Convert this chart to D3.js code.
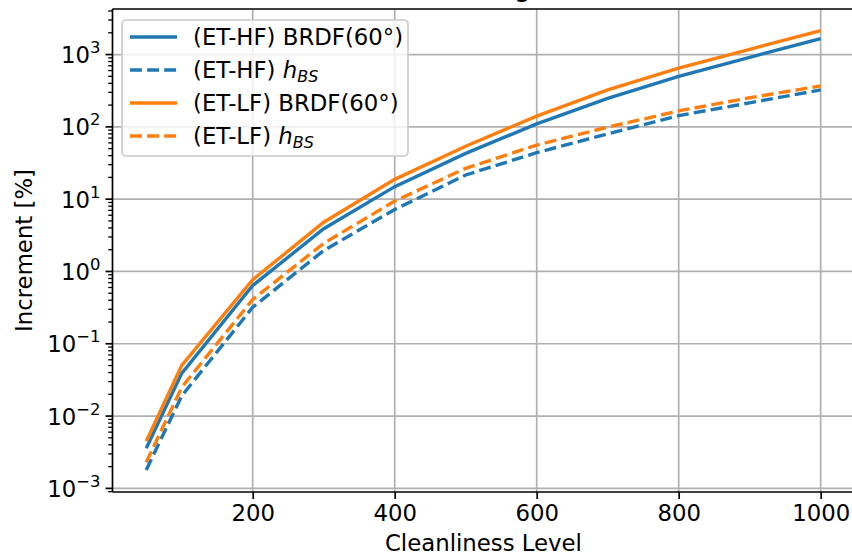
<!DOCTYPE html>
<html>
<head>
<meta charset="utf-8">
<script src="https://cdn.jsdelivr.net/npm/d3@7"></script>
<style>
  body { margin: 0; background: #fff; }
  svg { display: block; font-family: "DejaVu Sans", sans-serif; }
</style>
</head>
<body>
<svg id="chart" width="852" height="556"></svg>
<script>
// cleanliness levels
var levels = [50, 100, 200, 300, 400, 500, 600, 700, 800, 900, 1000];

// increment [%]
var hfBrdf = [0.0036, 0.039, 0.64, 3.9, 14.9, 43, 110, 248, 500, 915, 1660];
var hfHbs  = [0.0018, 0.019, 0.32, 1.95, 7.2, 21.6, 44, 80, 143, 215, 324];
var lfBrdf = [0.0045, 0.05, 0.77, 4.8, 18.8, 54, 141, 324, 650, 1180, 2140];
var lfHbs  = [0.0023, 0.025, 0.41, 2.45, 9.4, 26.7, 56, 99, 166, 253, 368];

var xTicks = [200, 400, 600, 800, 1000];
var yExps = [-3, -2, -1, 0, 1, 2, 3];

var series = [
    { name: '(ET-HF) BRDF(60°)', values: hfBrdf, color: '#1f77b4', dash: null },
    { name: '(ET-HF) ', sub: true, values: hfHbs, color: '#1f77b4', dash: '11.9,5.2' },
    { name: '(ET-LF) BRDF(60°)', values: lfBrdf, color: '#ff7f0e', dash: null },
    { name: '(ET-LF) ', sub: true, values: lfHbs, color: '#ff7f0e', dash: '11.9,5.2' }
];

var svg = d3.select('#chart');
var plotL = 112.5, plotR = 854.4, plotT = 9, plotB = 492;
var fs = 22.8;

var x = d3.scaleLinear().domain([2.5, 1047.5]).range([plotL, plotR]);
var y = d3.scaleLog().domain([Math.pow(10, -3.05), Math.pow(10, 3.63)]).range([plotB, plotT]);

// title, almost entirely above the visible area
svg.append('text')
    .attr('x', (plotL + plotR) / 2 - 12)
    .attr('y', -4)
    .attr('text-anchor', 'middle')
    .attr('font-size', fs * 1.2)
    .text('Cleaning');

// grid
var grid = svg.append('g').attr('stroke', '#b0b0b0').attr('stroke-width', 1.7);
grid.selectAll('line.gx').data(xTicks).enter().append('line')
    .attr('x1', d => x(d)).attr('x2', d => x(d))
    .attr('y1', plotT).attr('y2', plotB);
grid.selectAll('line.gy').data(yExps).enter().append('line')
    .attr('x1', plotL).attr('x2', plotR)
    .attr('y1', d => y(Math.pow(10, d))).attr('y2', d => y(Math.pow(10, d)));

// lines
var line = d3.line()
    .x((d, i) => x(levels[i]))
    .y(d => y(d));

svg.append('g').selectAll('path').data(series).enter().append('path')
    .attr('d', d => line(d.values))
    .attr('fill', 'none')
    .attr('stroke', d => d.color)
    .attr('stroke-width', 3.4)
    .attr('stroke-dasharray', d => d.dash);

// x axis
var xAxis = d3.axisBottom(x).tickValues(xTicks).tickFormat(d3.format('d'))
    .tickSize(7).tickPadding(6);
var gx = svg.append('g').attr('transform', 'translate(0,' + plotB + ')').call(xAxis);
gx.select('.domain').remove();
gx.selectAll('line').attr('stroke', '#000').attr('stroke-width', 1.7);
gx.selectAll('text').attr('font-size', fs).attr('fill', '#000')
    .attr('font-family', '"DejaVu Sans", sans-serif');

// y axis, minor ticks
var minor = [];
for (var e = -4; e <= 3; e++) {
    for (var m = 2; m <= 9; m++) {
        var v = m * Math.pow(10, e);
        if (v >= y.domain()[0] && v <= y.domain()[1]) minor.push(v);
    }
}
svg.append('g').selectAll('line').data(minor).enter().append('line')
    .attr('x1', plotL - 4.3).attr('x2', plotL)
    .attr('y1', d => y(d)).attr('y2', d => y(d))
    .attr('stroke', '#000').attr('stroke-width', 1.3);

var gy = svg.append('g');
gy.selectAll('line').data(yExps).enter().append('line')
    .attr('x1', plotL - 7).attr('x2', plotL)
    .attr('y1', d => y(Math.pow(10, d))).attr('y2', d => y(Math.pow(10, d)))
    .attr('stroke', '#000').attr('stroke-width', 1.7);

var yl = gy.selectAll('text').data(yExps).enter().append('text')
    .attr('x', plotL - 12)
    .attr('y', d => y(Math.pow(10, d)) + 8.5)
    .attr('text-anchor', 'end')
    .attr('font-size', fs);
yl.append('tspan').text('10');
yl.append('tspan').attr('dy', -10).attr('font-size', fs * 0.72)
    .text(d => (d < 0 ? '\u2212' + (-d) : d));

// spines
var spines = [
    [plotL, plotT, plotL, plotB], [plotL, plotB, plotR, plotB],
    [plotL, plotT, plotR, plotT], [plotR, plotT, plotR, plotB]
];
svg.append('g').selectAll('line').data(spines).enter().append('line')
    .attr('x1', d => d[0]).attr('y1', d => d[1])
    .attr('x2', d => d[2]).attr('y2', d => d[3])
    .attr('stroke', '#000').attr('stroke-width', 1.7);

// axis labels
svg.append('text')
    .attr('x', (plotL + plotR) / 2)
    .attr('y', 551)
    .attr('text-anchor', 'middle')
    .attr('font-size', fs)
    .text('Cleanliness Level');
svg.append('text')
    .attr('transform', 'translate(32,' + ((plotT + plotB) / 2) + ') rotate(-90)')
    .attr('text-anchor', 'middle')
    .attr('font-size', fs)
    .text('Increment [%]');

// legend
var lg = svg.append('g');
lg.append('rect')
    .attr('x', 122).attr('y', 20).attr('width', 286).attr('height', 136)
    .attr('rx', 4).attr('ry', 4)
    .attr('fill', 'rgba(255,255,255,0.8)')
    .attr('stroke', '#cccccc').attr('stroke-width', 1.7);
var rows = lg.selectAll('g.row').data(series).enter().append('g')
    .attr('transform', (d, i) => 'translate(0,' + (37 + i * 33) + ')');
rows.append('line')
    .attr('x1', 130).attr('x2', 177)
    .attr('stroke', d => d.color).attr('stroke-width', 3.4)
    .attr('stroke-dasharray', d => d.dash);
var lt = rows.append('text')
    .attr('x', 193).attr('y', 8)
    .attr('font-size', fs);
lt.append('tspan').text(d => d.name);
lt.filter(d => d.sub).append('tspan').attr('font-style', 'italic').text('h');
lt.filter(d => d.sub).append('tspan').attr('font-style', 'italic')
    .attr('font-size', fs * 0.7).attr('dy', 4).text('BS');
</script>
</body>
</html>
